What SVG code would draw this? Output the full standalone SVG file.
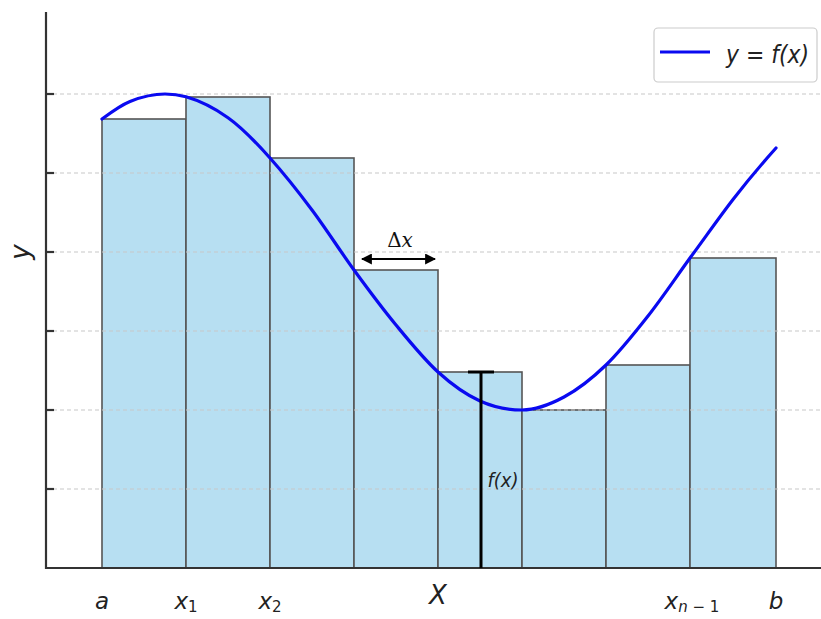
<svg xmlns="http://www.w3.org/2000/svg" width="821" height="619" viewBox="0 0 821 619">
<defs>
<style>
.bar{fill:#b7dff2;stroke:#555;stroke-width:1.6}
.grid{stroke:#c8c8c8;stroke-width:1.2;stroke-dasharray:4 3}
.axis{stroke:#333;stroke-width:2.2;fill:none}
.tick{stroke:#333;stroke-width:2.2}
.lbl{font-family:"DejaVu Sans",sans-serif;font-style:italic;fill:#222}
.sub{font-style:normal}
</style>
<marker id="ah" viewBox="0 0 10 10" refX="9" refY="5" markerWidth="5" markerHeight="5" orient="auto-start-reverse" markerUnits="strokeWidth">
<path d="M0,0 L10,5 L0,10 z" fill="#000"/>
</marker>
</defs>
<rect width="821" height="619" fill="#fff"/>
<g id="bars">
<rect class="bar" x="102" y="119" width="84" height="449"/>
<rect class="bar" x="186" y="97" width="84" height="471"/>
<rect class="bar" x="270" y="158" width="84" height="410"/>
<rect class="bar" x="354" y="270" width="84" height="298"/>
<rect class="bar" x="438" y="372" width="84" height="196"/>
<rect class="bar" x="522" y="410" width="84" height="158"/>
<rect class="bar" x="606" y="365" width="84" height="203"/>
<rect class="bar" x="690" y="258" width="86" height="310"/>
</g>
<g id="grid">
<line class="grid" x1="53" y1="94" x2="821" y2="94"/>
<line class="grid" x1="53" y1="173" x2="821" y2="173"/>
<line class="grid" x1="53" y1="252" x2="821" y2="252"/>
<line class="grid" x1="53" y1="331" x2="821" y2="331"/>
<line class="grid" x1="53" y1="410" x2="821" y2="410"/>
<line class="grid" x1="53" y1="489" x2="821" y2="489"/>
</g>
<g id="axes">
<path class="axis" d="M46,12 V568 H821"/>
<line class="tick" x1="46" y1="94" x2="54" y2="94"/>
<line class="tick" x1="46" y1="173" x2="54" y2="173"/>
<line class="tick" x1="46" y1="252" x2="54" y2="252"/>
<line class="tick" x1="46" y1="331" x2="54" y2="331"/>
<line class="tick" x1="46" y1="410" x2="54" y2="410"/>
<line class="tick" x1="46" y1="489" x2="54" y2="489"/>
</g>
<g id="curve">
<path fill="none" stroke="#0a0af0" stroke-width="3.2" stroke-linecap="round" d="M102,119 C111.33,112 120.67,105.1 130,101.4 C141.67,96.77 153.33,94 165,94 C172,94 179,94.8 186,96.8 C200,100.8 214,107.8 228,117.7 C242,127.6 256,142.3 270,158 C284,173.7 298,191.3 312,210 C326,228.7 340,250.8 354,270 C368,289.2 382,308 396,325 C410,342 424,359.3 438,372 C452,384.7 466,394.7 480,401 C494,407.3 508,410 522,410 C536,410 550,404.5 564,397 C578,389.5 592,378.5 606,365 C620,351.5 634,333.8 648,316 C662,298.2 676,277.3 690,258 C704.3,238.7 718.7,218 733,199.5 C747.3,181 761.7,164 776,148"/>
</g>
<g id="connectors">
<line x1="362" y1="259" x2="435" y2="259" stroke="#000" stroke-width="2.2" marker-start="url(#ah)" marker-end="url(#ah)"/>
<line x1="481" y1="372" x2="481" y2="568" stroke="#000" stroke-width="3"/>
<line x1="468" y1="372" x2="494" y2="372" stroke="#000" stroke-width="3"/>
</g>
<g id="labels">
<text x="400" y="247" font-family="DejaVu Serif,serif" font-size="20" text-anchor="middle" fill="#111">Δ<tspan font-style="italic">x</tspan></text>
<text x="503" y="487" class="lbl" font-size="20" text-anchor="middle" textLength="31" lengthAdjust="spacingAndGlyphs">f(x)</text>
<text x="102" y="609" class="lbl" font-size="23" text-anchor="middle">a</text>
<text x="186" y="609" class="lbl" font-size="23" text-anchor="middle">x<tspan class="sub" font-size="15" dy="3">1</tspan></text>
<text x="270" y="609" class="lbl" font-size="23" text-anchor="middle">x<tspan class="sub" font-size="15" dy="3">2</tspan></text>
<text x="692" y="609" class="lbl" font-size="23" text-anchor="middle">x<tspan font-size="15" dy="3">n</tspan><tspan class="sub" font-size="15"> − 1</tspan></text>
<text x="776" y="609" class="lbl" font-size="23" text-anchor="middle">b</text>
<text x="438" y="604" class="lbl" font-size="26" text-anchor="middle">X</text>
<text x="29" y="252" class="lbl" font-size="26" text-anchor="middle" transform="rotate(-90 29 252)">y</text>
</g>
<g id="legend">
<rect x="654" y="28" width="163" height="54" rx="4" fill="#fff" stroke="#ccc" stroke-width="1.2"/>
<line x1="660" y1="52" x2="710" y2="52" stroke="#0a0af0" stroke-width="3.2"/>
<text x="726" y="63" class="lbl" font-size="24" textLength="83" lengthAdjust="spacingAndGlyphs">y = f(x)</text>
</g>
</svg>
